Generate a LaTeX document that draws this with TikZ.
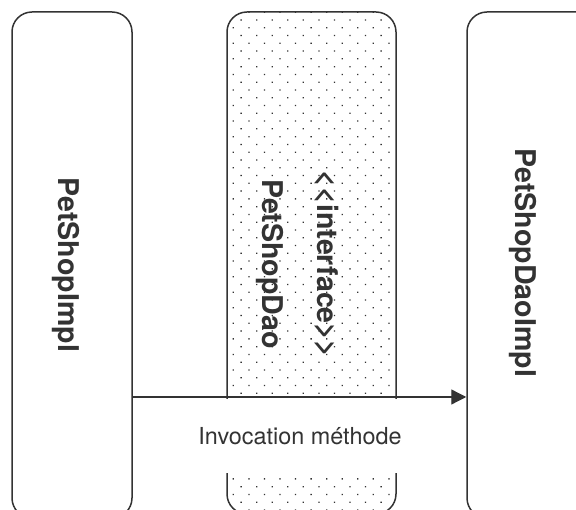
\documentclass[tikz,border=0pt]{standalone}
\usepackage{fontspec}
\setmainfont{TeX Gyre Heros}
\usetikzlibrary{patterns.meta,arrows.meta}
\definecolor{ink}{HTML}{333333}
\definecolor{dotc}{HTML}{333333}
\tikzset{
  lane/.style={rectangle, draw=ink, line width=1.5pt, rounded corners=20pt, inner sep=0pt},
  dotted lane/.style={lane, pattern={Dots[distance=11pt, angle=45, radius=0.9pt]}, pattern color=dotc},
  title/.style={text=ink, font=\bfseries\fontsize{28.6}{34}\selectfont, rotate=-90, align=center, inner sep=0pt},
  flow/.style={draw=ink, line width=1.3pt, -{Triangle[length=15pt,width=15pt]}},
  caption/.style={rectangle, fill=white, text=ink, font=\fontsize{23.4}{28}\selectfont, minimum width=240pt, minimum height=74pt, inner sep=0pt}
}
\begin{document}
\begin{tikzpicture}[x=1pt,y=-1pt]
\useasboundingbox (0,0) rectangle (576,510);
\begin{scope}
\clip (0,0) rectangle (576,510);
% lanes
\node[lane, minimum width=120pt, minimum height=506pt] (impl) at (72,265) {};
\node[dotted lane, minimum width=169pt, minimum height=502pt] (dao) at (311.5,263) {};
\node[lane, minimum width=156pt, minimum height=506pt] (daoimpl) at (545,265) {};
% titles
\node[title] (implT) at (65.5,265) {PetShopImpl};
\node[title] (daoT) at (298,264) {<\kern0pt<interface>\kern0pt>\\[21pt]PetShopDao};
\node[title] (daoimplT) at (522.5,263) {PetShopDaoImpl};
% call
\coordinate (callY) at (0,397);
\draw[flow] (impl.east |- callY) -- (daoimpl.west |- callY);
\node[caption] (callL) at (300,436) {Invocation méthode};
\end{scope}
\end{tikzpicture}
\end{document}
